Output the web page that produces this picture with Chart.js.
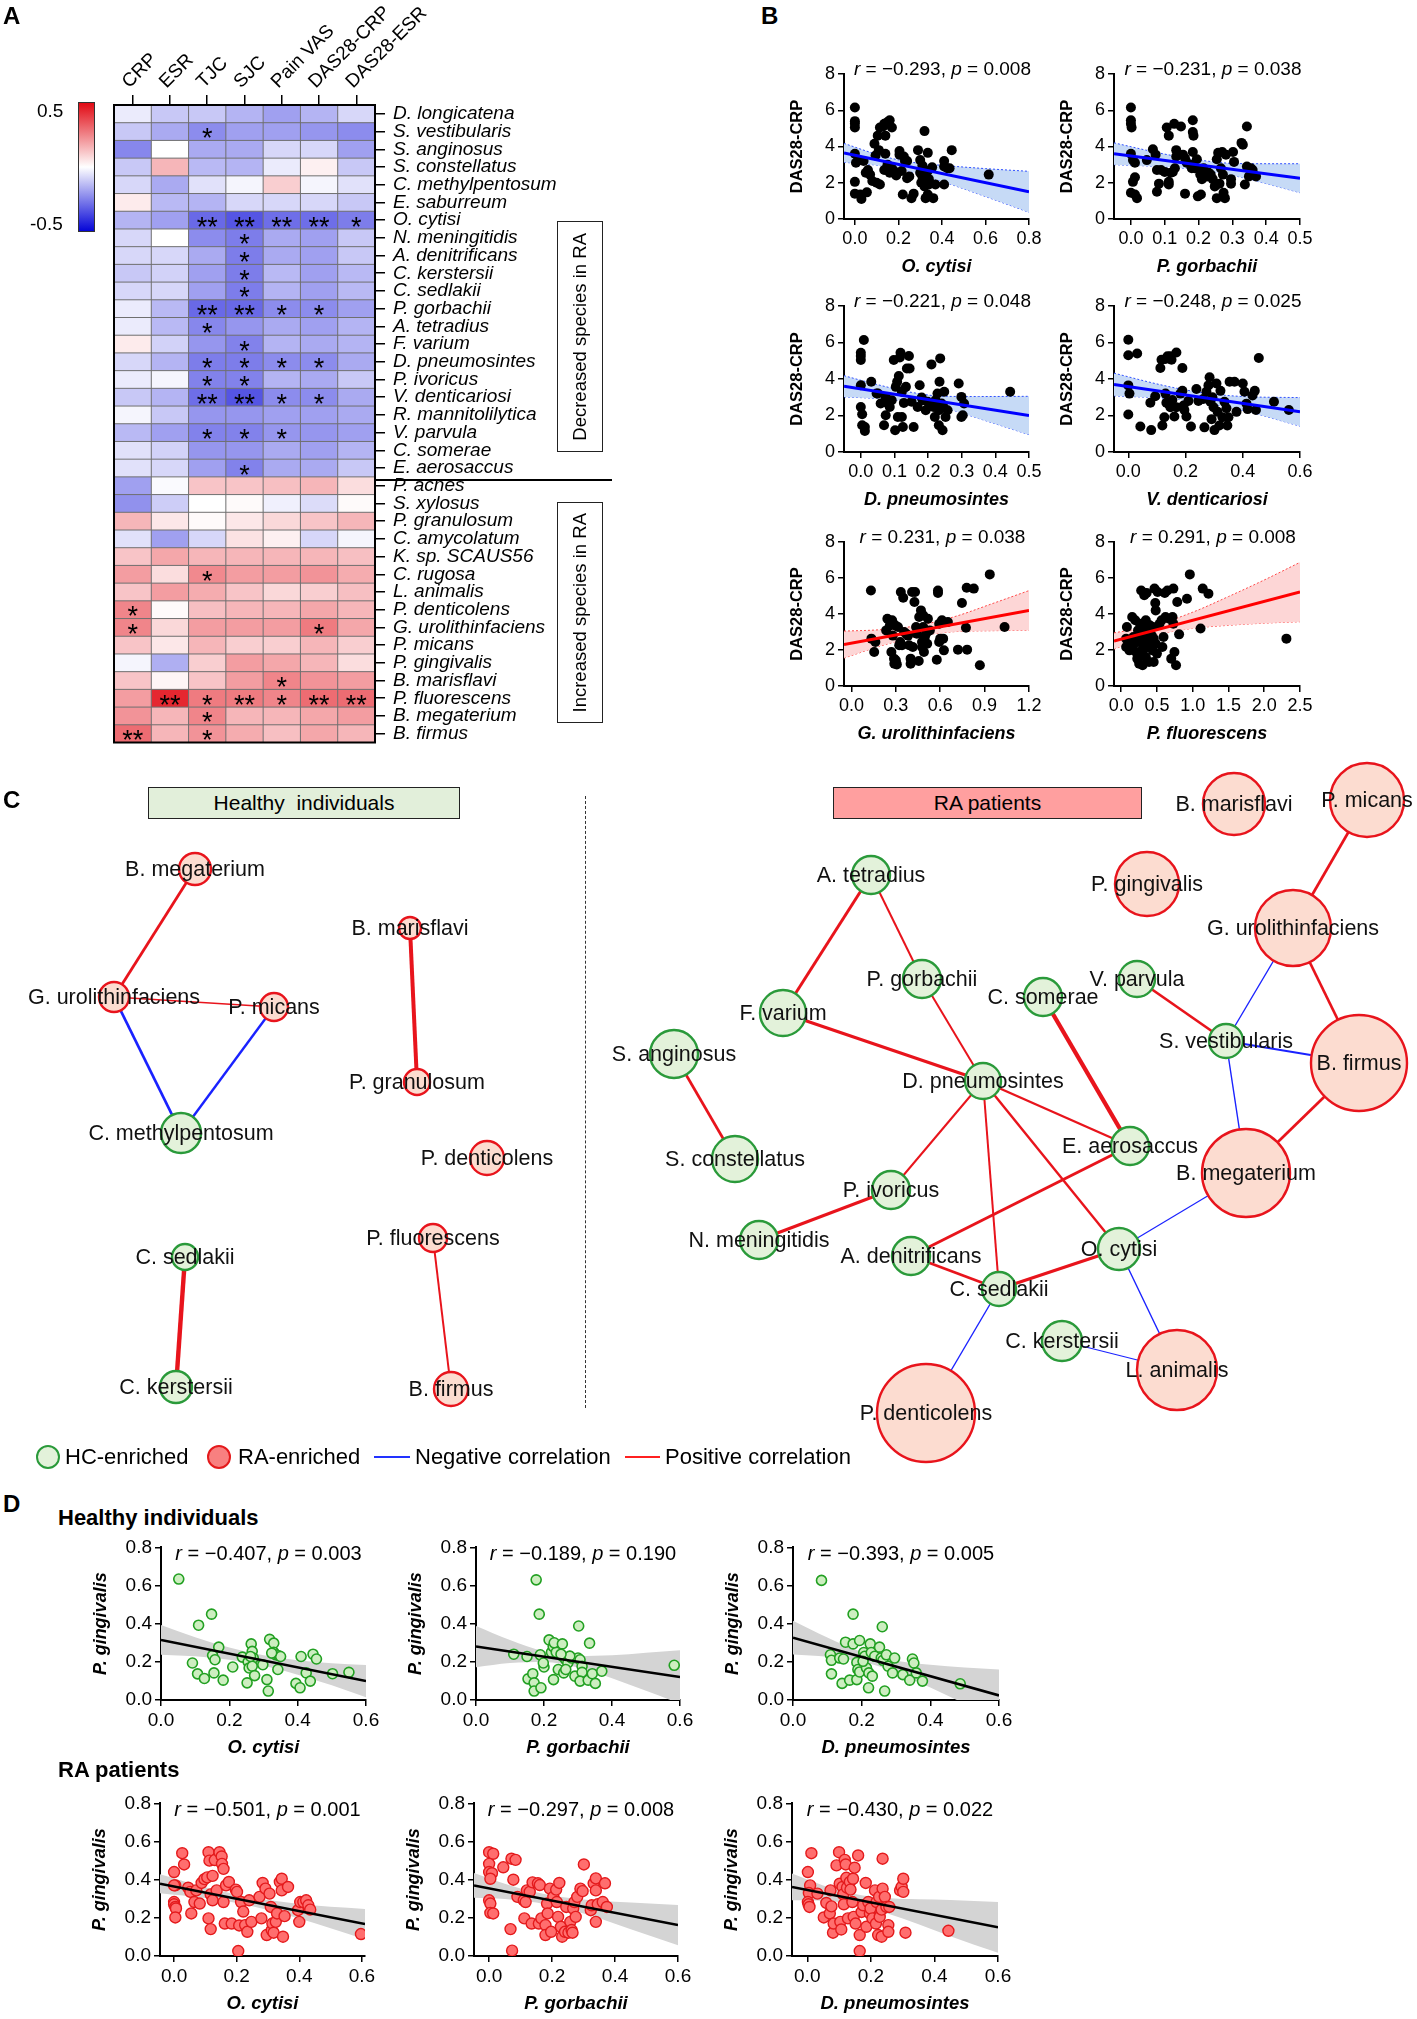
<!DOCTYPE html>
<html>
<head>
<meta charset="utf-8">
<script src="https://cdn.jsdelivr.net/npm/chart.js@4.4.1/dist/chart.umd.min.js"></script>
<style>
body { margin: 0; background: #fff; }
#page { position: relative; width: 1417px; height: 2019px; overflow: hidden; background: #fff;
        font-family: "Liberation Sans", Arial, sans-serif; color: #000; }
#page canvas { position: absolute; }
.t { position: absolute; white-space: nowrap; line-height: 1; }
.box { position: absolute; box-sizing: border-box; border: 1.5px solid #222; }
.vbox { display: flex; align-items: center; justify-content: center; }
.vbox span { writing-mode: vertical-rl; transform: rotate(180deg); font-size: 18.5px; }
</style>
</head>
<body>
<div id="page"></div>
<script>
// ---------- Panel A: correlation heatmap ----------
var measures = ["CRP", "ESR", "TJC", "SJC", "Pain VAS", "DAS28-CRP", "DAS28-ESR"];
var species = ["D. longicatena", "S. vestibularis", "S. anginosus", "S. constellatus", "C. methylpentosum",
  "E. saburreum", "O. cytisi", "N. meningitidis", "A. denitrificans", "C. kerstersii", "C. sedlakii",
  "P. gorbachii", "A. tetradius", "F. varium", "D. pneumosintes", "P. ivoricus", "V. denticariosi",
  "R. mannitolilytica", "V. parvula", "C. somerae", "E. aerosaccus", "P. acnes", "S. xylosus",
  "P. granulosum", "C. amycolatum", "K. sp. SCAUS56", "C. rugosa", "L. animalis", "P. denticolens",
  "G. urolithinfaciens", "P. micans", "P. gingivalis", "B. marisflavi", "P. fluorescens",
  "B. megaterium", "B. firmus"];
var rho = [
  [-0.04, -0.11, -0.11, -0.15, -0.19, -0.15, -0.08],
  [-0.11, -0.17, -0.23, -0.19, -0.19, -0.21, -0.23],
  [-0.24, 0.00, -0.17, -0.17, -0.08, -0.08, -0.19],
  [-0.11, 0.15, -0.14, -0.15, -0.04, 0.03, -0.11],
  [-0.08, -0.17, -0.06, -0.02, 0.10, -0.02, -0.06],
  [0.04, -0.14, -0.15, -0.08, -0.08, -0.08, -0.11],
  [-0.15, -0.19, -0.30, -0.34, -0.29, -0.29, -0.26],
  [-0.08, 0.00, -0.23, -0.26, -0.17, -0.19, -0.11],
  [-0.08, -0.08, -0.17, -0.26, -0.17, -0.19, -0.11],
  [-0.11, -0.09, -0.19, -0.26, -0.14, -0.19, -0.14],
  [-0.08, -0.08, -0.19, -0.26, -0.15, -0.19, -0.14],
  [-0.04, -0.14, -0.30, -0.30, -0.23, -0.23, -0.19],
  [-0.04, -0.14, -0.24, -0.21, -0.17, -0.19, -0.15],
  [0.04, -0.09, -0.21, -0.25, -0.15, -0.17, -0.15],
  [-0.08, -0.15, -0.26, -0.26, -0.23, -0.23, -0.17],
  [-0.04, -0.02, -0.25, -0.25, -0.15, -0.17, -0.11],
  [-0.11, -0.15, -0.29, -0.34, -0.23, -0.23, -0.17],
  [-0.02, -0.11, -0.21, -0.21, -0.19, -0.19, -0.17],
  [-0.14, -0.19, -0.25, -0.25, -0.21, -0.21, -0.19],
  [-0.06, -0.09, -0.21, -0.21, -0.17, -0.19, -0.15],
  [-0.06, -0.08, -0.19, -0.25, -0.17, -0.17, -0.11],
  [-0.19, -0.01, 0.12, 0.12, 0.13, 0.15, 0.07],
  [-0.22, -0.10, 0.00, 0.01, -0.03, -0.07, 0.01],
  [0.15, 0.05, 0.01, 0.05, 0.08, 0.12, 0.15],
  [-0.06, -0.19, -0.08, 0.06, 0.03, -0.08, -0.02],
  [0.12, 0.18, 0.15, 0.15, 0.15, 0.15, 0.13],
  [0.20, 0.07, 0.24, 0.20, 0.20, 0.22, 0.17],
  [0.12, 0.20, 0.17, 0.12, 0.08, 0.10, 0.13],
  [0.25, 0.01, 0.13, 0.15, 0.15, 0.18, 0.15],
  [0.25, 0.08, 0.20, 0.20, 0.20, 0.27, 0.18],
  [0.12, 0.05, 0.15, 0.10, 0.10, 0.15, 0.10],
  [-0.02, -0.16, 0.10, 0.20, 0.18, 0.15, 0.07],
  [0.12, 0.02, 0.12, 0.20, 0.25, 0.22, 0.20],
  [0.20, 0.44, 0.27, 0.27, 0.25, 0.30, 0.30],
  [0.22, 0.15, 0.25, 0.15, 0.15, 0.18, 0.20],
  [0.30, 0.15, 0.22, 0.17, 0.13, 0.18, 0.15]
];
// 0 = none, 1 = *, 2 = **
var sigCodes = ["0000000", "0010000", "0000000", "0000000", "0000000", "0000000", "0022221",
  "0001000", "0001000", "0001000", "0001000", "0022110", "0010000", "0001000", "0011110",
  "0011000", "0022110", "0000000", "0011100", "0000000", "0001000", "0000000", "0000000",
  "0000000", "0000000", "0000000", "0010000", "0000000", "1000000", "1000010", "0000000",
  "0000000", "0000100", "0212122", "0010000", "2010000"];

// ---------- Panel B: DAS28-CRP scatter plots (x, y) ----------
var dasTicks = [0, 2, 4, 6, 8];
var bCytisi = [[0,6.15],[0,5.4],[0,5.05],[0,5.25],[0,3.6],[0.005,3.1],[0,2.05],[0,1.4],[0.025,1.35],[0.03,1.1],
  [0.015,3.25],[0.04,3.2],[0.05,2.55],[0.06,2.7],[0.055,1.47],[0.07,2.45],[0.08,2.1],[0.09,4.15],[0.095,3.5],
  [0.1,2.0],[0.11,3.8],[0.115,1.9],[0.105,4.6],[0.115,5.05],[0.13,5.1],[0.135,5.25],[0.14,4.6],[0.14,3.6],
  [0.135,2.7],[0.15,5.35],[0.16,5.45],[0.17,5.05],[0.15,3.0],[0.17,2.8],[0.16,2.55],[0.18,2.65],[0.19,2.4],
  [0.205,3.75],[0.205,3.55],[0.215,2.65],[0.225,3.45],[0.23,3.2],[0.24,2.25],[0.22,1.35],[0.24,3.2],[0.25,2.35],
  [0.26,1.15],[0.27,1.4],[0.3,2.55],[0.29,3.8],[0.3,3.25],[0.31,2.95],[0.31,2.35],[0.305,2.0],[0.32,1.8],
  [0.325,1.15],[0.32,4.85],[0.335,3.65],[0.335,2.65],[0.34,2.2],[0.34,1.9],[0.335,1.35],[0.355,2.85],[0.36,1.15],
  [0.37,1.9],[0.41,2.9],[0.41,3.2],[0.41,1.9],[0.425,2.8],[0.445,3.8],[0.435,2.8],[0.615,2.45]];
var bCytisiFit = [[-0.05, 3.65], [0.8, 1.5]];
var bCytisiBand = [[-0.05,3.13,4.17],[0.1,2.97,3.57],[0.2,2.78,3.26],[0.3,2.47,3.07],[0.4,2.08,2.96],[0.6,1.24,2.78],[0.8,0.37,2.63]];

var bGorbachii = [[0,6.15],[0,5.45],[0,5.25],[0.002,5.05],[0,3.6],[0.006,3.25],[0.012,3.1],[0.012,2.3],[0.006,2.05],
  [0,1.45],[0.012,1.35],[0.018,1.15],[0.047,3.25],[0.065,3.85],[0.073,3.55],[0.077,2.7],[0.077,1.5],[0.083,1.95],
  [0.089,2.7],[0.1,2.6],[0.106,5.05],[0.112,4.6],[0.112,2.05],[0.112,1.9],[0.118,2.55],[0.124,2.6],[0.128,5.25],
  [0.13,2.8],[0.134,3.8],[0.134,3.45],[0.148,5.1],[0.154,3.55],[0.16,3.35],[0.16,1.4],[0.165,3.1],[0.177,3.0],
  [0.183,5.45],[0.183,4.8],[0.185,4.6],[0.183,3.7],[0.18,2.8],[0.189,2.8],[0.195,3.3],[0.198,1.25],[0.207,1.35],
  [0.205,2.45],[0.21,2.2],[0.215,2.8],[0.22,2.6],[0.225,2.35],[0.23,2.55],[0.236,2.45],[0.242,2.2],[0.248,1.8],
  [0.254,3.3],[0.258,3.65],[0.254,1.15],[0.262,1.95],[0.266,2.8],[0.27,3.7],[0.272,2.45],[0.274,1.45],[0.278,1.15],
  [0.281,3.55],[0.296,1.95],[0.302,3.7],[0.305,3.15],[0.296,2.2],[0.327,4.2],[0.331,4.1],[0.337,1.9],[0.343,5.1],
  [0.343,2.9],[0.349,2.35],[0.355,2.8],[0.36,2.7],[0.37,2.35]];
var bGorbachiiFit = [[-0.05, 3.6], [0.5, 2.25]];
var bGorbachiiBand = [[-0.05,3.0,4.2],[0.1,2.88,3.58],[0.2,2.72,3.26],[0.3,2.41,3.07],[0.4,1.95,3.05],[0.5,1.45,3.05]];

var bPneumo = [[0.009,6.14],[0,5.44],[0,5.26],[0,5.04],[0,3.66],[0,2.47],[0.004,2.07],[0.004,1.47],[0.012,1.37],
  [0.012,1.15],[0.031,3.85],[0.051,3.21],[0.059,2.66],[0.069,1.47],[0.074,2.01],[0.074,3.02],[0.08,2.66],
  [0.086,2.47],[0.092,2.84],[0.098,5.04],[0.102,1.19],[0.104,3.57],[0.108,3.85],[0.11,1.92],[0.113,4.16],
  [0.116,5.18],[0.118,5.44],[0.122,3.3],[0.122,1.92],[0.125,1.37],[0.128,2.69],[0.134,3.57],[0.137,4.58],
  [0.143,5.26],[0.145,4.58],[0.151,2.75],[0.157,1.37],[0.169,2.47],[0.175,3.66],[0.181,2.99],[0.184,2.84],
  [0.193,2.29],[0.199,2.75],[0.204,2.51],[0.21,4.8],[0.216,2.47],[0.22,1.92],[0.222,2.84],[0.228,3.21],
  [0.232,1.47],[0.234,3.85],[0.236,5.13],[0.24,2.66],[0.243,1.19],[0.246,2.47],[0.248,3.3],[0.252,1.92],
  [0.258,2.29],[0.291,3.75],[0.299,3.02],[0.303,2.01],[0.307,2.66],[0.444,3.3],[0.047,3.21],[0.299,1.92],[0.232,2.29]];
var bPneumoFit = [[-0.05, 3.6], [0.5, 2.0]];
var bPneumoBand = [[-0.05,3.02,4.18],[0.05,2.93,3.69],[0.15,2.77,3.27],[0.25,2.41,3.05],[0.35,1.84,3.04],[0.5,0.95,3.05]];

var bDenti = [[0,6.15],[0,5.3],[0.031,5.4],[0,3.65],[0.004,3.2],[0,2.05],[0.042,1.4],[0.08,1.2],[0.077,2.7],
  [0.094,3.05],[0.112,4.6],[0.116,5.05],[0.13,5.1],[0.137,5.25],[0.147,5.25],[0.151,5.05],[0.168,5.45],[0.189,4.6],
  [0.13,3.2],[0.133,2.7],[0.126,1.9],[0.119,1.45],[0.14,2.65],[0.147,2.45],[0.154,2.85],[0.161,1.95],[0.168,2.45],
  [0.182,3.2],[0.189,3.35],[0.193,2.55],[0.196,2.3],[0.203,1.95],[0.21,2.8],[0.219,1.4],[0.238,3.45],[0.245,2.8],
  [0.262,2.9],[0.266,1.35],[0.273,3.3],[0.28,3.65],[0.284,4.1],[0.287,2.75],[0.291,1.8],[0.294,3.0],[0.298,2.45],
  [0.301,1.2],[0.308,3.75],[0.312,2.2],[0.318,1.45],[0.322,3.35],[0.329,1.9],[0.336,2.75],[0.343,2.4],[0.346,1.45],
  [0.35,1.9],[0.354,3.85],[0.371,3.85],[0.378,2.2],[0.4,3.75],[0.406,3.3],[0.413,2.65],[0.417,2.35],[0.434,3.1],
  [0.442,3.35],[0.446,2.3],[0.456,5.15],[0.509,2.75],[0.561,2.3]];
var bDentiFit = [[-0.05, 3.7], [0.6, 2.2]];
var bDentiBand = [[-0.05,3.08,4.32],[0.1,2.97,3.73],[0.2,2.84,3.4],[0.3,2.61,3.17],[0.4,2.28,3.04],[0.6,1.42,2.98]];

var bUro = [[0.132,5.31],[0.135,2.63],[0.154,1.89],[0.162,2.44],[0.243,3.74],[0.26,3.37],[0.275,3.65],[0.28,2.8],
  [0.27,1.89],[0.288,1.52],[0.29,1.24],[0.3,1.43],[0.307,1.2],[0.315,3.28],[0.323,2.26],[0.33,2.44],[0.334,5.22],
  [0.342,2.26],[0.35,4.9],[0.356,3.0],[0.37,2.9],[0.383,2.8],[0.39,2.26],[0.4,1.52],[0.4,1.24],[0.41,5.22],
  [0.415,2.17],[0.426,4.67],[0.43,5.22],[0.437,3.28],[0.442,2.9],[0.455,1.39],[0.458,3.83],[0.47,4.2],[0.477,2.44],
  [0.477,2.17],[0.485,3.93],[0.485,3.28],[0.49,1.89],[0.496,2.72],[0.504,2.9],[0.512,2.35],[0.517,3.74],[0.53,3.09],
  [0.577,1.46],[0.585,5.31],[0.585,5.17],[0.593,3.46],[0.593,2.44],[0.6,2.63],[0.612,3.65],[0.62,2.63],[0.625,1.98],
  [0.652,3.56],[0.72,2.02],[0.747,4.61],[0.774,3.24],[0.779,5.46],[0.782,2.02],[0.827,5.41],[0.868,1.15],[0.935,6.2],
  [1.035,3.28],[0.296,3.37],[0.235,3.09]];
var bUroFit = [[-0.05, 2.3], [1.2, 4.2]];
var bUroBand = [[-0.05,1.55,3.05],[0.2,2.23,3.13],[0.45,2.76,3.36],[0.7,3.02,3.86],[0.95,3.07,4.57],[1.2,3.1,5.3]];

var bFluor = [[0.07,2.63],[0.08,3.28],[0.1,2.26],[0.115,1.98],[0.126,2.44],[0.154,3.83],[0.154,2.17],[0.17,2.72],
  [0.18,2.35],[0.197,3.65],[0.208,1.89],[0.225,1.52],[0.236,3.09],[0.247,2.44],[0.252,1.24],[0.263,3.46],[0.274,2.8],
  [0.28,5.31],[0.29,1.98],[0.3,1.15],[0.307,3.28],[0.318,2.63],[0.323,5.04],[0.334,2.35],[0.345,3.65],[0.345,1.61],
  [0.356,5.17],[0.373,3.0],[0.373,2.17],[0.39,1.33],[0.4,3.37],[0.4,2.54],[0.428,2.8],[0.44,1.98],[0.444,3.28],
  [0.455,1.33],[0.466,5.41],[0.477,4.61],[0.483,4.2],[0.483,2.35],[0.5,1.8],[0.51,5.22],[0.537,3.46],[0.565,3.65],
  [0.576,2.17],[0.592,2.72],[0.61,5.17],[0.62,3.83],[0.647,5.31],[0.675,3.74],[0.7,1.52],[0.718,3.83],[0.73,3.46],
  [0.73,5.41],[0.745,1.89],[0.767,1.15],[0.784,4.67],[0.81,2.87],[0.92,4.85],[0.96,6.2],[1.11,3.19],[1.14,5.41],
  [1.22,5.13],[2.31,2.63],[0.455,2.63],[0.07,2.17],[0.263,1.8],[0.318,2.07]];
var bFluorFit = [[-0.1, 2.5], [2.5, 5.22]];
var bFluorBand = [[-0.1,2.05,2.95],[0.45,2.8,3.36],[1.0,3.2,4.1],[1.5,3.37,4.97],[2.0,3.49,5.89],[2.5,3.57,6.87]];

// ---------- Panel C: co-occurrence networks (layout position x, y, node radius) ----------
var hcNodes = [
  ["B. megaterium", 195, 869, 16, "RA"], ["G. urolithinfaciens", 114, 997, 15, "RA"],
  ["P. micans", 274, 1007, 14, "RA"], ["C. methylpentosum", 181, 1133, 20, "HC"],
  ["B. marisflavi", 410, 928, 11, "RA"], ["P. granulosum", 417, 1082, 13, "RA"],
  ["P. denticolens", 487, 1158, 17, "RA"], ["P. fluorescens", 433, 1238, 14, "RA"],
  ["B. firmus", 451, 1389, 17, "RA"], ["C. sedlakii", 185, 1257, 13, "HC"],
  ["C. kerstersii", 176, 1387, 16, "HC"]];
var hcEdges = [
  ["B. megaterium", "G. urolithinfaciens", 1, 2.8], ["G. urolithinfaciens", "P. micans", 1, 1.3],
  ["G. urolithinfaciens", "C. methylpentosum", -1, 2.8], ["P. micans", "C. methylpentosum", -1, 2.4],
  ["B. marisflavi", "P. granulosum", 1, 4], ["C. sedlakii", "C. kerstersii", 1, 4.4],
  ["P. fluorescens", "B. firmus", 1, 2]];
var raNodes = [
  ["B. marisflavi", 1234, 804, 31, "RA"], ["P. micans", 1367, 800, 37, "RA"],
  ["P. gingivalis", 1147, 884, 32, "RA"], ["G. urolithinfaciens", 1293, 928, 38, "RA"],
  ["A. tetradius", 871, 875, 19, "HC"], ["P. gorbachii", 922, 979, 19, "HC"],
  ["C. somerae", 1043, 997, 19, "HC"], ["V. parvula", 1137, 979, 18, "HC"],
  ["F. varium", 783, 1013, 23, "HC"], ["S. vestibularis", 1226, 1041, 17, "HC"],
  ["B. firmus", 1359, 1063, 48, "RA"], ["S. anginosus", 674, 1054, 24, "HC"],
  ["D. pneumosintes", 983, 1081, 18, "HC"], ["E. aerosaccus", 1130, 1146, 19, "HC"],
  ["B. megaterium", 1246, 1173, 44, "RA"], ["S. constellatus", 735, 1159, 23, "HC"],
  ["P. ivoricus", 891, 1190, 19, "HC"], ["N. meningitidis", 759, 1240, 19, "HC"],
  ["A. denitrificans", 911, 1256, 19, "HC"], ["O. cytisi", 1119, 1249, 21, "HC"],
  ["C. sedlakii", 999, 1289, 17, "HC"], ["C. kerstersii", 1062, 1341, 20, "HC"],
  ["L. animalis", 1177, 1370, 40, "RA"], ["P. denticolens", 926, 1413, 49, "RA"]];
var raEdges = [
  ["A. tetradius", "F. varium", 1, 3], ["A. tetradius", "P. gorbachii", 1, 2],
  ["P. gorbachii", "D. pneumosintes", 1, 2], ["F. varium", "D. pneumosintes", 1, 3.2],
  ["D. pneumosintes", "E. aerosaccus", 1, 2.4], ["D. pneumosintes", "P. ivoricus", 1, 2],
  ["D. pneumosintes", "C. sedlakii", 1, 2], ["D. pneumosintes", "O. cytisi", 1, 2.4],
  ["C. somerae", "E. aerosaccus", 1, 4.3], ["E. aerosaccus", "A. denitrificans", 1, 3],
  ["P. ivoricus", "N. meningitidis", 1, 3], ["A. denitrificans", "C. sedlakii", 1, 2.7],
  ["C. sedlakii", "O. cytisi", 1, 3], ["S. anginosus", "S. constellatus", 1, 2.7],
  ["V. parvula", "S. vestibularis", 1, 2.7], ["P. micans", "G. urolithinfaciens", 1, 2.7],
  ["G. urolithinfaciens", "B. firmus", 1, 2.7], ["B. firmus", "B. megaterium", 1, 2.7],
  ["G. urolithinfaciens", "S. vestibularis", -1, 1.4], ["S. vestibularis", "B. firmus", -1, 2.2],
  ["S. vestibularis", "B. megaterium", -1, 1.4], ["B. megaterium", "O. cytisi", -1, 1.2],
  ["O. cytisi", "L. animalis", -1, 1.4], ["C. sedlakii", "P. denticolens", -1, 1.4],
  ["C. kerstersii", "L. animalis", -1, 1.2]];

// ---------- Panel D: P. gingivalis scatter plots (x, y) ----------
var pgTicks = [0, 0.2, 0.4, 0.6, 0.8];
var d06Ticks = [0, 0.2, 0.4, 0.6];
var hCytisi = [[0.052,0.634],[0.11,0.392],[0.148,0.45],[0.092,0.194],[0.107,0.137],[0.127,0.113],[0.155,0.142],
  [0.151,0.234],[0.158,0.211],[0.169,0.277],[0.182,0.104],[0.21,0.173],[0.238,0.225],[0.252,0.09],[0.255,0.2],
  [0.258,0.168],[0.264,0.294],[0.267,0.255],[0.27,0.22],[0.267,0.177],[0.274,0.128],[0.298,0.185],[0.31,0.107],
  [0.314,0.047],[0.318,0.318],[0.33,0.298],[0.33,0.25],[0.336,0.237],[0.345,0.232],[0.35,0.228],[0.342,0.16],
  [0.395,0.087],[0.407,0.064],[0.41,0.228],[0.425,0.142],[0.437,0.099],[0.445,0.24],[0.455,0.215],[0.502,0.138],
  [0.55,0.145],[0.262,0.228],[0.324,0.246]];
var hCytisiFit = [[0, 0.315], [0.6, 0.099]];
var hCytisiBand = [[0,0.237,0.393],[0.1,0.229,0.329],[0.2,0.211,0.275],[0.3,0.179,0.235],[0.4,0.133,0.209],[0.5,0.077,0.193],[0.6,0.014,0.184]];
var hGorbachii = [[0.177,0.63],[0.186,0.45],[0.302,0.388],[0.334,0.298],[0.111,0.24],[0.15,0.228],[0.189,0.237],
  [0.2,0.173],[0.215,0.315],[0.222,0.25],[0.227,0.28],[0.236,0.25],[0.23,0.3],[0.242,0.16],[0.254,0.294],
  [0.255,0.228],[0.258,0.142],[0.264,0.211],[0.27,0.194],[0.276,0.228],[0.282,0.22],[0.291,0.125],[0.3,0.22],
  [0.306,0.211],[0.312,0.177],[0.312,0.145],[0.306,0.099],[0.33,0.104],[0.342,0.138],[0.351,0.087],[0.37,0.151],
  [0.153,0.111],[0.167,0.138],[0.171,0.09],[0.171,0.047],[0.191,0.064],[0.198,0.194],[0.228,0.107],[0.264,0.16],
  [0.583,0.182],[0.276,0.23],[0.25,0.24]];
var hGorbachiiFit = [[0, 0.28], [0.6, 0.121]];
var hGorbachiiBand = [[0,0.172,0.388],[0.1,0.194,0.314],[0.2,0.199,0.255],[0.3,0.17,0.23],[0.4,0.114,0.234],[0.5,0.048,0.248],[0.6,-0.019,0.261]];
var hPneumo = [[0.083,0.627],[0.175,0.45],[0.26,0.384],[0.109,0.237],[0.112,0.208],[0.112,0.137],[0.136,0.22],
  [0.147,0.215],[0.143,0.087],[0.153,0.303],[0.165,0.104],[0.175,0.294],[0.186,0.107],[0.186,0.197],[0.189,0.16],
  [0.194,0.312],[0.194,0.147],[0.206,0.249],[0.209,0.229],[0.214,0.168],[0.22,0.064],[0.221,0.142],[0.225,0.294],
  [0.228,0.249],[0.231,0.125],[0.238,0.229],[0.252,0.277],[0.257,0.22],[0.262,0.208],[0.267,0.047],[0.272,0.237],
  [0.277,0.177],[0.29,0.142],[0.296,0.22],[0.32,0.133],[0.34,0.104],[0.348,0.215],[0.352,0.194],[0.359,0.142],
  [0.377,0.099],[0.487,0.085],[0.204,0.203]];
var hPneumoFit = [[0, 0.327], [0.6, 0.024]];
var hPneumoBand = [[0,0.239,0.415],[0.1,0.227,0.327],[0.2,0.2,0.252],[0.3,0.146,0.206],[0.4,0.065,0.185],[0.5,-0.02,0.17],[0.6,-0.112,0.16]];

var rCytisi = [[0.026,0.539],[0.032,0.48],[0,0.44],[0.004,0.37],[0,0.283],[0,0.271],[0.004,0.257],[0.006,0.249],
  [0.004,0.202],[0.045,0.358],[0.052,0.336],[0.055,0.223],[0.071,0.344],[0.065,0.283],[0.082,0.275],[0.088,0.383],
  [0.097,0.403],[0.106,0.412],[0.11,0.544],[0.113,0.5],[0.117,0.323],[0.11,0.197],[0.117,0.141],[0.123,0.42],
  [0.123,0.292],[0.13,0.503],[0.136,0.344],[0.145,0.544],[0.152,0.522],[0.153,0.483],[0.158,0.457],[0.158,0.283],
  [0.162,0.17],[0.166,0.37],[0.175,0.388],[0.184,0.17],[0.197,0.348],[0.201,0.336],[0.205,0.026],[0.208,0.16],
  [0.214,0.283],[0.221,0.233],[0.227,0.162],[0.234,0.127],[0.24,0.292],[0.247,0.179],[0.273,0.31],[0.283,0.383],
  [0.279,0.197],[0.292,0.353],[0.296,0.11],[0.305,0.327],[0.309,0.257],[0.312,0.136],[0.314,0.17],[0.318,0.122],
  [0.325,0.179],[0.329,0.223],[0.338,0.388],[0.344,0.405],[0.344,0.344],[0.348,0.101],[0.353,0.209],[0.364,0.362],
  [0.396,0.24],[0.4,0.179],[0.403,0.283],[0.413,0.283],[0.422,0.292],[0.429,0.266],[0.435,0.243],[0.597,0.115],[0,0.37]];
var rCytisiFit = [[-0.045, 0.379], [0.61, 0.167]];
var rCytisiBand = [[-0.045,0.329,0.429],[0.1,0.304,0.36],[0.2,0.278,0.322],[0.3,0.241,0.293],[0.4,0.197,0.273],[0.5,0.146,0.258],[0.61,0.087,0.247]];
var rGorbachii = [[0,0.544],[0.013,0.536],[0,0.483],[0,0.44],[0.009,0.434],[0.004,0.405],[0,0.292],[0.004,0.275],
  [0.004,0.226],[0.013,0.223],[0.045,0.465],[0.071,0.51],[0.084,0.504],[0.077,0.4],[0.068,0.141],[0.073,0.028],
  [0.09,0.31],[0.11,0.292],[0.116,0.283],[0.112,0.197],[0.12,0.344],[0.129,0.336],[0.135,0.17],[0.138,0.386],
  [0.155,0.381],[0.161,0.372],[0.158,0.17],[0.166,0.197],[0.179,0.162],[0.179,0.11],[0.184,0.275],[0.186,0.223],
  [0.193,0.353],[0.197,0.127],[0.204,0.31],[0.213,0.348],[0.215,0.283],[0.219,0.205],[0.223,0.383],[0.228,0.153],
  [0.232,0.101],[0.241,0.127],[0.245,0.257],[0.252,0.122],[0.258,0.179],[0.262,0.136],[0.265,0.122],[0.267,0.249],
  [0.271,0.283],[0.275,0.205],[0.28,0.31],[0.29,0.353],[0.297,0.34],[0.301,0.48],[0.323,0.24],[0.326,0.266],
  [0.332,0.381],[0.339,0.407],[0.339,0.344],[0.339,0.179],[0.345,0.271],[0.361,0.283],[0.368,0.381],[0.374,0.257]];
var rGorbachiiFit = [[-0.048, 0.37], [0.6, 0.162]];
var rGorbachiiBand = [[-0.048,0.305,0.435],[0.05,0.299,0.379],[0.15,0.28,0.334],[0.25,0.245,0.305],[0.35,0.198,0.288],[0.45,0.14,0.28],[0.6,0.057,0.267]];
var rPneumo = [[0.013,0.539],[0.002,0.44],[0.009,0.37],[0.005,0.33],[0.002,0.283],[0.004,0.271],[0.007,0.257],
  [0.032,0.327],[0.052,0.202],[0.06,0.278],[0.071,0.223],[0.073,0.344],[0.076,0.26],[0.081,0.122],[0.083,0.17],
  [0.092,0.475],[0.1,0.544],[0.102,0.379],[0.104,0.179],[0.107,0.139],[0.111,0.362],[0.113,0.323],[0.115,0.271],
  [0.118,0.504],[0.121,0.48],[0.123,0.41],[0.125,0.358],[0.128,0.197],[0.134,0.388],[0.136,0.348],[0.142,0.283],
  [0.144,0.405],[0.146,0.205],[0.149,0.463],[0.152,0.17],[0.16,0.527],[0.165,0.11],[0.165,0.026],[0.171,0.231],
  [0.176,0.266],[0.184,0.383],[0.186,0.153],[0.192,0.283],[0.197,0.223],[0.199,0.249],[0.205,0.197],[0.213,0.344],
  [0.216,0.17],[0.218,0.283],[0.223,0.11],[0.226,0.31],[0.228,0.205],[0.234,0.101],[0.234,0.243],[0.237,0.51],
  [0.237,0.353],[0.244,0.31],[0.249,0.257],[0.255,0.162],[0.255,0.127],[0.258,0.257],[0.292,0.344],[0.297,0.362],
  [0.302,0.405],[0.302,0.336],[0.309,0.122],[0.444,0.132]];
var rPneumoFit = [[-0.048, 0.362], [0.6, 0.15]];
var rPneumoBand = [[-0.048,0.292,0.432],[0.05,0.29,0.37],[0.15,0.269,0.325],[0.25,0.224,0.304],[0.35,0.167,0.297],[0.45,0.104,0.294],[0.6,0.017,0.283]];

// ================= drawing =================
Chart.defaults.font.family = '"Liberation Sans", Arial, sans-serif';
Chart.defaults.color = '#000';
var page = document.getElementById('page');

function addText(html, x, cy, size, opt) {
  opt = opt || {};
  var d = document.createElement('div');
  d.className = 't';
  d.innerHTML = html;
  d.style.fontSize = size + 'px';
  d.style.top = (cy - size * 0.5) + 'px';
  if (opt.center) {
    d.style.left = (x - 200) + 'px';
    d.style.width = '400px';
    d.style.textAlign = 'center';
  } else {
    d.style.left = x + 'px';
  }
  if (opt.bold) d.style.fontWeight = 'bold';
  if (opt.italic) d.style.fontStyle = 'italic';
  page.appendChild(d);
  return d;
}
function addBox(left, top, w, h, css) {
  var d = document.createElement('div');
  d.className = 'box';
  d.style.left = left + 'px'; d.style.top = top + 'px';
  d.style.width = w + 'px'; d.style.height = h + 'px';
  for (var k in css) d.style[k] = css[k];
  page.appendChild(d);
  return d;
}

// ---- heatmap ----
function cellColor(v) {
  var t = Math.min(1, Math.abs(v) / 0.5);
  if (v >= 0) return 'rgb(' + Math.round(255 - 30 * t) + ',' + Math.round(255 - 245 * t) + ',' + Math.round(255 - 235 * t) + ')';
  return 'rgb(' + Math.round(255 - 250 * t) + ',' + Math.round(255 - 250 * t) + ',' + Math.round(255 - 40 * t) + ')';
}
var heatPlugin = {
  id: 'heat',
  beforeDatasetsDraw: function (chart) {
    var ctx = chart.ctx, xs = chart.scales.x, ys = chart.scales.y, a = chart.chartArea;
    var cw = Math.abs(xs.getPixelForValue(1) - xs.getPixelForValue(0));
    var ch = Math.abs(ys.getPixelForValue(1) - ys.getPixelForValue(0));
    ctx.save();
    for (var r = 0; r < species.length; r++) {
      for (var c = 0; c < measures.length; c++) {
        ctx.fillStyle = cellColor(rho[r][c]);
        ctx.fillRect(xs.getPixelForValue(c) - cw / 2, ys.getPixelForValue(r) - ch / 2, cw + 0.5, ch + 0.5);
      }
    }
    ctx.strokeStyle = '#6f6f6f';
    ctx.lineWidth = 1;
    ctx.beginPath();
    for (c = 1; c < measures.length; c++) {
      var x = xs.getPixelForValue(c) - cw / 2;
      ctx.moveTo(x, a.top); ctx.lineTo(x, a.bottom);
    }
    for (r = 1; r < species.length; r++) {
      var y = ys.getPixelForValue(r) - ch / 2;
      ctx.moveTo(a.left, y); ctx.lineTo(a.right, y);
    }
    ctx.stroke();
    ctx.strokeStyle = '#000';
    ctx.lineWidth = 2;
    ctx.strokeRect(a.left, a.top, a.right - a.left, a.bottom - a.top);
    ctx.fillStyle = '#000';
    ctx.font = '27px "Liberation Sans", Arial, sans-serif';
    ctx.textAlign = 'center';
    ctx.textBaseline = 'alphabetic';
    for (r = 0; r < species.length; r++) {
      for (c = 0; c < measures.length; c++) {
        var s = sigCodes[r].charAt(c);
        if (s === '0') continue;
        ctx.fillText(s === '2' ? '**' : '*', xs.getPixelForValue(c), ys.getPixelForValue(r) + 15.5);
      }
    }
    ctx.restore();
  }
};
(function () {
  var cv = document.createElement('canvas');
  cv.width = 620; cv.height = 760;
  cv.style.left = '0px'; cv.style.top = '0px';
  page.appendChild(cv);
  new Chart(cv, {
    type: 'scatter',
    data: { datasets: [{ data: [], pointRadius: 0 }] },
    options: {
      responsive: false, animation: false,
      layout: { autoPadding: false, padding: { left: 114, bottom: 12, top: 0, right: 0 } },
      plugins: { legend: { display: false }, tooltip: { enabled: false } },
      scales: {
        x: {
          type: 'category', labels: measures, position: 'top', offset: true,
          grid: { drawOnChartArea: false, offset: false, tickLength: 10, color: '#000', lineWidth: 1.5 },
          border: { display: false },
          ticks: { font: { size: 19 }, color: '#000', minRotation: 45, maxRotation: 45, autoSkip: false,
            padding: 2, labelOffset: 9 },
          afterFit: function (s) { s.height = 105; }
        },
        y: {
          type: 'category', labels: species, position: 'right', offset: true,
          grid: { drawOnChartArea: false, offset: false, tickLength: 10, color: '#000', lineWidth: 1.5 },
          border: { display: false },
          ticks: { font: { size: 19, style: 'italic', lineHeight: 1 }, color: '#000', autoSkip: false, padding: 8 },
          afterFit: function (s) { s.width = 245; }
        }
      }
    },
    plugins: [heatPlugin]
  });
})();
// colour bar, group boxes
addBox(78, 102, 17, 130, { border: '1px solid #333',
  background: 'linear-gradient(to bottom, rgb(225,10,20), rgb(255,255,255) 50%, rgb(5,5,215))' });
addText('0.5', 37, 110, 19);
addText('-0.5', 30, 223, 19);
addBox(376, 479, 236, 1.5, { border: 'none', background: '#000' });
var dec = addBox(557, 221, 46, 231, {}); dec.classList.add('vbox'); dec.innerHTML = '<span>Decreased species in RA</span>';
var inc = addBox(557, 502, 46, 221, {}); inc.classList.add('vbox'); inc.innerHTML = '<span>Increased species in RA</span>';

// ---- scatter plots ----
function scatterPlot(o) {
  var W = Math.round(o.yGap + o.yTitleSize * 0.6);
  var H = Math.round(o.xGap + o.xTitleSize * 0.6);
  var padTop = 14, padRight = 26;
  var cv = document.createElement('canvas');
  cv.width = Math.round(W + o.right - o.left + padRight);
  cv.height = Math.round(padTop + o.bottom - o.top + H);
  cv.style.left = Math.round(o.left - W) + 'px';
  cv.style.top = Math.round(o.top - padTop) + 'px';
  page.appendChild(cv);
  var st = o.style;
  var xy = function (p) { return { x: p[0], y: p[1] }; };
  function axis(min, max, ticks, decimals, title, titleFont, fit) {
    return {
      type: 'linear', min: min, max: max,
      afterBuildTicks: function (s) { s.ticks = ticks.map(function (v) { return { value: v }; }); },
      afterFit: fit,
      ticks: { font: { size: o.tickSize }, color: '#000', padding: 3, autoSkip: false, maxRotation: 0,
        callback: function (v) { return Number(v).toFixed(decimals); } },
      grid: { drawOnChartArea: false, drawTicks: true, tickLength: 6, color: '#000', lineWidth: 1.5 },
      border: { display: true, color: '#000', width: 2 },
      title: { display: true, text: title, font: titleFont, color: '#000', padding: 0 }
    };
  }
  new Chart(cv, {
    type: 'scatter',
    data: {
      datasets: [
        { type: 'line', data: o.fit.map(xy), borderColor: st.line, borderWidth: st.lineWidth, pointRadius: 0, fill: false },
        { data: o.points.map(xy), pointRadius: st.r, pointBackgroundColor: st.fill, pointBorderColor: st.stroke,
          pointBorderWidth: st.strokeWidth },
        { type: 'line', data: o.band.map(function (b) { return { x: b[0], y: b[2] }; }), fill: '+1',
          backgroundColor: st.band, borderColor: st.bandEdge, borderWidth: st.bandEdgeWidth, borderDash: st.dash,
          pointRadius: 0, cubicInterpolationMode: 'monotone' },
        { type: 'line', data: o.band.map(function (b) { return { x: b[0], y: b[1] }; }), fill: false,
          borderColor: st.bandEdge, borderWidth: st.bandEdgeWidth, borderDash: st.dash,
          pointRadius: 0, cubicInterpolationMode: 'monotone' }
      ]
    },
    options: {
      responsive: false, animation: false,
      layout: { padding: { top: padTop, right: padRight, left: 0, bottom: 0 } },
      plugins: { legend: { display: false }, tooltip: { enabled: false } },
      scales: {
        x: axis(o.xMin, o.xMax, o.xTicks, o.xDec, o.xTitle,
          { size: o.xTitleSize, weight: 'bold', style: 'italic' }, function (s) { s.height = H; }),
        y: axis(o.yMin, o.yMax, o.yTicks, o.yDec, o.yTitle,
          { size: o.yTitleSize, weight: 'bold', style: o.yItalic ? 'italic' : 'normal' }, function (s) { s.width = W; })
      }
    }
  });
  addText(o.stat, (o.left + o.right) / 2 + o.statDx, o.top + o.statDy, o.statSize, { center: true });
}

var bNeg = { line: '#0000ff', lineWidth: 3, r: 5, fill: '#000', stroke: '#000', strokeWidth: 0,
  band: '#c6daf6', bandEdge: '#3050ff', bandEdgeWidth: 1, dash: [2, 2] };
var bPos = { line: '#ff0000', lineWidth: 3, r: 5, fill: '#000', stroke: '#000', strokeWidth: 0,
  band: '#fdd6d6', bandEdge: '#ff4a4a', bandEdgeWidth: 1, dash: [2, 2] };
var dHc = { line: '#000', lineWidth: 2.5, r: 5, fill: '#cdeec0', stroke: '#22a022', strokeWidth: 1.6,
  band: '#d4d4d4', bandEdge: 'rgba(0,0,0,0)', bandEdgeWidth: 0, dash: [] };
var dRa = { line: '#000', lineWidth: 2.5, r: 5.5, fill: '#ff6e6e', stroke: '#e41a1c', strokeWidth: 1.4,
  band: '#d4d4d4', bandEdge: 'rgba(0,0,0,0)', bandEdgeWidth: 0, dash: [] };

function stat(r, p) { return '<i>r</i> = ' + r + ', <i>p</i> = ' + p; }

var bCols = [[844, 1029], [1114, 1300]];
var bRows = [[74, 219], [306, 452], [542, 686]];
var bPlots = [
  [bCytisi, bCytisiFit, bCytisiBand, -0.05, 0.8, [0, 0.2, 0.4, 0.6, 0.8], 'O. cytisi', stat('\u22120.293', '0.008'), bNeg],
  [bGorbachii, bGorbachiiFit, bGorbachiiBand, -0.05, 0.5, [0, 0.1, 0.2, 0.3, 0.4, 0.5], 'P. gorbachii', stat('\u22120.231', '0.038'), bNeg],
  [bPneumo, bPneumoFit, bPneumoBand, -0.05, 0.5, [0, 0.1, 0.2, 0.3, 0.4, 0.5], 'D. pneumosintes', stat('\u22120.221', '0.048'), bNeg],
  [bDenti, bDentiFit, bDentiBand, -0.05, 0.6, [0, 0.2, 0.4, 0.6], 'V. denticariosi', stat('\u22120.248', '0.025'), bNeg],
  [bUro, bUroFit, bUroBand, -0.05, 1.2, [0, 0.3, 0.6, 0.9, 1.2], 'G. urolithinfaciens', stat('0.231', '0.038'), bPos],
  [bFluor, bFluorFit, bFluorBand, -0.1, 2.5, [0, 0.5, 1, 1.5, 2, 2.5], 'P. fluorescens', stat('0.291', '0.008'), bPos]
];
bPlots.forEach(function (p, i) {
  var col = bCols[i % 2], row = bRows[Math.floor(i / 2)];
  scatterPlot({
    left: col[0], right: col[1], top: row[0], bottom: row[1],
    xMin: p[3], xMax: p[4], xTicks: p[5], xDec: 1, yMin: 0, yMax: 8, yTicks: dasTicks, yDec: 0,
    points: p[0], fit: p[1], band: p[2], style: p[8],
    xTitle: p[6], yTitle: 'DAS28-CRP', yItalic: false, tickSize: 18,
    xTitleSize: 18, yTitleSize: 16.5, xGap: 48, yGap: 46,
    stat: p[7], statDx: 6, statDy: -6, statSize: 19
  });
});

var dCols = [[161, 366], [476, 680], [793, 999]];
var dColsRa = [[160, 365], [474, 678], [792, 998]];
var dPlots = [
  [hCytisi, hCytisiFit, hCytisiBand, 0, 0.6, 'O. cytisi', stat('\u22120.407', '0.003'), dHc, 0],
  [hGorbachii, hGorbachiiFit, hGorbachiiBand, 0, 0.6, 'P. gorbachii', stat('\u22120.189', '0.190'), dHc, 1],
  [hPneumo, hPneumoFit, hPneumoBand, 0, 0.6, 'D. pneumosintes', stat('\u22120.393', '0.005'), dHc, 2],
  [rCytisi, rCytisiFit, rCytisiBand, -0.045, 0.61, 'O. cytisi', stat('\u22120.501', '0.001'), dRa, 3],
  [rGorbachii, rGorbachiiFit, rGorbachiiBand, -0.048, 0.6, 'P. gorbachii', stat('\u22120.297', '0.008'), dRa, 4],
  [rPneumo, rPneumoFit, rPneumoBand, -0.048, 0.6, 'D. pneumosintes', stat('\u22120.430', '0.022'), dRa, 5]
];
dPlots.forEach(function (p) {
  var i = p[8], ra = i >= 3;
  var col = ra ? dColsRa[i - 3] : dCols[i];
  scatterPlot({
    left: col[0], right: col[1], top: ra ? 1803 : 1547, bottom: ra ? 1956 : 1700,
    xMin: p[3], xMax: p[4], xTicks: d06Ticks, xDec: 1, yMin: 0, yMax: 0.8, yTicks: pgTicks, yDec: 1,
    points: p[0], fit: p[1], band: p[2], style: p[7],
    xTitle: p[5], yTitle: 'P. gingivalis', yItalic: true, tickSize: 19,
    xTitleSize: 18.5, yTitleSize: 18, xGap: 48, yGap: 60,
    stat: p[6], statDx: 5, statDy: 6, statSize: 20
  });
});

// ---- networks ----
(function () {
  var cv = document.createElement('canvas');
  cv.width = 1417; cv.height = 730;
  cv.style.left = '0px'; cv.style.top = '755px';
  page.appendChild(cv);
  var sets = [];
  function addNet(nodes, edges) {
    var pos = {};
    nodes.forEach(function (n) { pos[n[0]] = n; });
    edges.forEach(function (e) {
      var a = pos[e[0]], b = pos[e[1]];
      sets.push({ type: 'line', order: 1, data: [{ x: a[1], y: a[2] }, { x: b[1], y: b[2] }],
        borderColor: e[2] > 0 ? '#e8141c' : '#1a22ff', borderWidth: e[3], pointRadius: 0, fill: false });
    });
    sets.push({ order: 0, nodeNames: nodes.map(function (n) { return n[0]; }),
      data: nodes.map(function (n) { return { x: n[1], y: n[2] }; }),
      pointRadius: nodes.map(function (n) { return n[3]; }),
      pointBackgroundColor: nodes.map(function (n) { return n[4] === 'RA' ? '#fcdcd0' : '#e3f2da'; }),
      pointBorderColor: nodes.map(function (n) { return n[4] === 'RA' ? '#e8141c' : '#2a9a3a'; }),
      pointBorderWidth: 2.4 });
  }
  addNet(hcNodes, hcEdges);
  addNet(raNodes, raEdges);
  var labelPlugin = {
    id: 'nodeLabels',
    afterDatasetsDraw: function (chart) {
      var ctx = chart.ctx, xs = chart.scales.x, ys = chart.scales.y;
      ctx.save();
      ctx.font = '21.5px "Liberation Sans", Arial, sans-serif';
      ctx.fillStyle = '#111';
      ctx.textAlign = 'center';
      ctx.textBaseline = 'middle';
      chart.data.datasets.forEach(function (ds) {
        if (!ds.nodeNames) return;
        ds.nodeNames.forEach(function (name, i) {
          ctx.fillText(name, xs.getPixelForValue(ds.data[i].x), ys.getPixelForValue(ds.data[i].y) + 1);
        });
      });
      ctx.restore();
    }
  };
  new Chart(cv, {
    type: 'scatter',
    data: { datasets: sets },
    options: {
      responsive: false, animation: false,
      layout: { autoPadding: false, padding: 0 },
      plugins: { legend: { display: false }, tooltip: { enabled: false } },
      scales: {
        x: { type: 'linear', min: 0, max: 1417, display: false },
        y: { type: 'linear', min: 755, max: 1485, reverse: true, display: false }
      }
    },
    plugins: [labelPlugin]
  });
})();

// network frame, titles and legend
var hb = addBox(148, 787, 312, 32, { background: '#e2efda' });
hb.classList.add('vbox'); hb.innerHTML = '<div style="font-size:21px">Healthy&nbsp; individuals</div>';
var rb = addBox(833, 787, 309, 32, { background: '#ff9f9f' });
rb.classList.add('vbox'); rb.innerHTML = '<div style="font-size:21px">RA patients</div>';
addBox(585, 796, 0, 612, { border: 'none', borderLeft: '1.5px dashed #333' });
addBox(36, 1445, 24, 24, { border: '2px solid #2a9a3a', background: '#e3f2da', borderRadius: '50%' });
addText('HC-enriched', 65, 1457, 22);
addBox(207, 1445, 24, 24, { border: '2px solid #e41a1c', background: '#f88080', borderRadius: '50%' });
addText('RA-enriched', 238, 1457, 22);
addBox(374, 1456, 36, 2, { border: 'none', background: '#2233ff' });
addText('Negative correlation', 415, 1457, 22);
addBox(625, 1456, 35, 2, { border: 'none', background: '#ff2020' });
addText('Positive correlation', 665, 1457, 22);

// panel letters and row headings
addText('A', 3, 16, 24, { bold: true });
addText('B', 761, 16, 24, { bold: true });
addText('C', 3, 800, 24, { bold: true });
addText('D', 3, 1504, 24, { bold: true });
addText('Healthy individuals', 58, 1518, 22, { bold: true });
addText('RA patients', 58, 1770, 22, { bold: true });
</script>
</body>
</html>
